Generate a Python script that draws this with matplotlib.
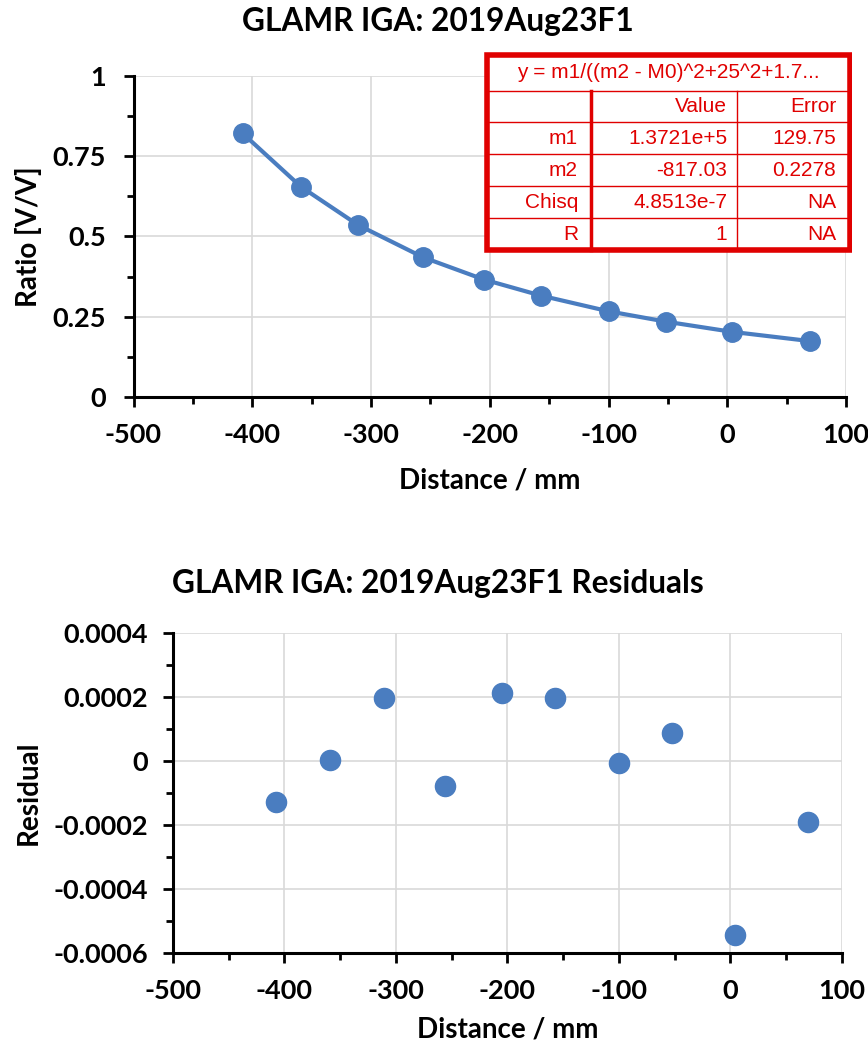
import numpy as np
import matplotlib.pyplot as plt
from matplotlib.ticker import MultipleLocator, FuncFormatter
from matplotlib.patches import Rectangle

plt.rcParams['font.family'] = ['Lato', 'DejaVu Sans']
plt.rcParams['axes.unicode_minus'] = False

# data
distance = [-408, -359, -311, -256, -205, -157, -100, -52, 4, 70]
ratio = [0.821, 0.655, 0.536, 0.435, 0.366, 0.316, 0.267, 0.235, 0.203, 0.174]
residual = [-0.000129, 0.000002, 0.000195, -0.000079, 0.000213, 0.000195,
             -0.000006, 0.000086, -0.000546, -0.000191]

fit_eq = 'y = m1/((m2 - M0)^2+25^2+1.7...'
tbl_cols = ['', 'Value', 'Error']
tbl_rows = [['m1', '1.3721e+5', '129.75'],
            ['m2', '-817.03', '0.2278'],
            ['Chisq', '4.8513e-7', 'NA'],
            ['R', '1', 'NA']]

blue = '#4A7DC0'
red = '#E00000'
tick_fs = 19.5
lab_fs = 20
title_fs = 22.8
W, H = 868, 1052

fig = plt.figure(figsize=(W / 100, H / 100), dpi=100)


def style(ax):
    for s in ['top', 'right']:
        ax.spines[s].set_visible(False)
    for s in ['left', 'bottom']:
        ax.spines[s].set_linewidth(2.2)
    ax.grid(True, color='#d9d9d9', lw=1.2)
    ax.set_axisbelow(True)
    ax.tick_params(which='major', direction='out', length=7, width=2, labelsize=tick_fs)
    ax.tick_params(which='minor', direction='out', length=5, width=2)
    ax.tick_params(axis='x', which='major', pad=12)
    ax.tick_params(axis='y', which='major', pad=13)
    for lab in ax.get_xticklabels() + ax.get_yticklabels():
        lab.set_fontweight('bold')


# top chart
ax1 = fig.add_axes([133.5 / W, 1 - 397 / H, 712.5 / W, 321 / H])
ax1.plot(distance, ratio, color=blue, lw=3, marker='o', ms=14, clip_on=False)
ax1.set_xlim(-500, 100)
ax1.set_ylim(0, 1)
ax1.xaxis.set_major_locator(MultipleLocator(100))
ax1.xaxis.set_minor_locator(MultipleLocator(50))
ax1.yaxis.set_major_locator(MultipleLocator(0.25))
ax1.yaxis.set_minor_locator(MultipleLocator(0.125))
ax1.yaxis.set_major_formatter(FuncFormatter(lambda v, p: '%g' % v))
style(ax1)
ax1.set_xlabel('Distance / mm', fontsize=lab_fs, fontweight='bold')
ax1.set_ylabel('Ratio [V/V]', fontsize=lab_fs, fontweight='bold')
ax1.xaxis.set_label_coords(0.5, -0.22)
ax1.yaxis.set_label_coords(-0.128, 0.5)
fig.text(0.505, 1 - 21 / H, 'GLAMR IGA: 2019Aug23F1', ha='center', va='center',
         fontsize=title_fs, fontweight='bold')

# fit table
tax = fig.add_axes([484 / W, 1 - 253 / H, 368 / W, 201 / H])
tax.set_xlim(0, 368)
tax.set_ylim(201, 0)
tax.axis('off')
tax.add_patch(Rectangle((3, 3), 363, 195, fill=True, fc='white', ec=red, lw=4))
row_y = [38.5, 70, 102, 134, 166, 198]
for y in row_y[:-1]:
    tax.plot([3, 366], [y, y], color=red, lw=1)
tax.plot([107, 107], [38.5, 198], color=red, lw=2.5)
tax.plot([253, 253], [38.5, 198], color=red, lw=1)
tax.text(184, 21, fit_eq, ha='center', va='center', color=red, fontsize=15,
         family='Liberation Sans')
col_right = [94, 243, 352]
all_rows = [tbl_cols] + tbl_rows
for i, row in enumerate(all_rows):
    yc = (row_y[i] + row_y[i + 1]) / 2
    for j, txt in enumerate(row):
        tax.text(col_right[j], yc, txt, ha='right', va='center', color=red,
                 fontsize=15, family='Liberation Sans')

# residual chart
ax2 = fig.add_axes([173 / W, 1 - 952.7 / H, 668.7 / W, 320 / H])
ax2.plot(distance, residual, 'o', color=blue, ms=14.5, clip_on=False)
ax2.set_xlim(-500, 100)
ax2.set_ylim(-0.0006, 0.0004)
ax2.xaxis.set_major_locator(MultipleLocator(100))
ax2.xaxis.set_minor_locator(MultipleLocator(50))
ax2.yaxis.set_major_locator(MultipleLocator(0.0002))
ax2.yaxis.set_minor_locator(MultipleLocator(0.0001))
ax2.yaxis.set_major_formatter(FuncFormatter(lambda v, p: '0' if abs(v) < 1e-12 else '%.4f' % v))
style(ax2)
ax2.tick_params(axis='y', which='major', pad=11)
ax2.set_xlabel('Distance / mm', fontsize=lab_fs, fontweight='bold')
ax2.set_ylabel('Residual', fontsize=lab_fs, fontweight='bold')
ax2.xaxis.set_label_coords(0.5, -0.2)
ax2.yaxis.set_label_coords(-0.196, 0.5)
fig.text(0.505, 1 - 584 / H, 'GLAMR IGA: 2019Aug23F1 Residuals', ha='center', va='center',
         fontsize=title_fs, fontweight='bold')

fig.savefig('out.png', dpi=100)
